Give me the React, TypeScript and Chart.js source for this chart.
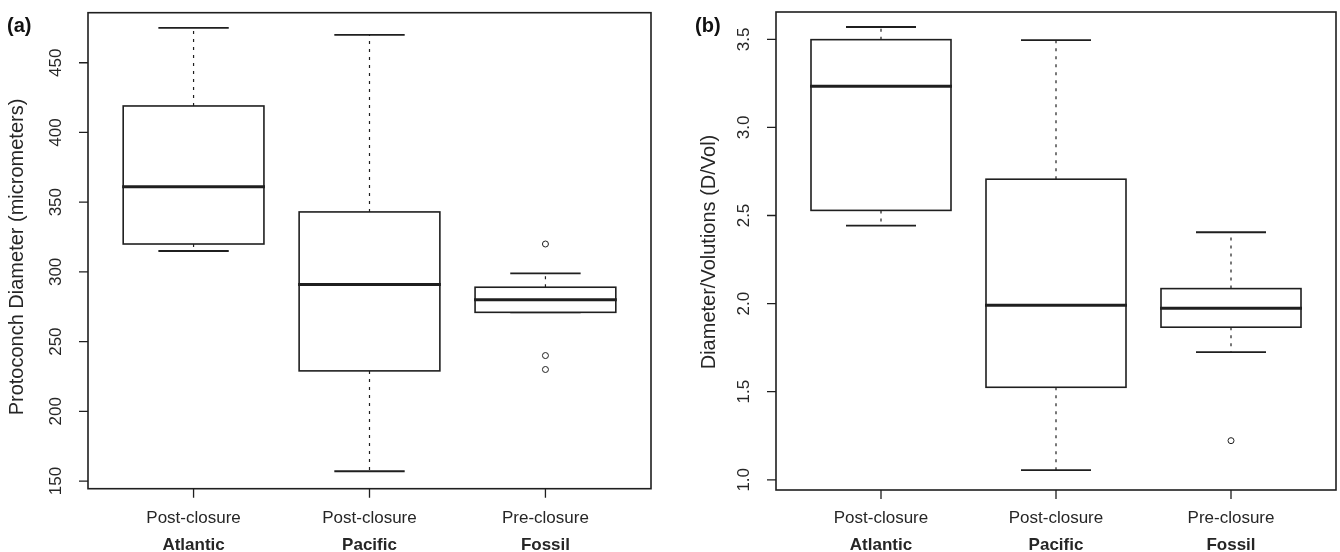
import React, { useEffect, useRef } from "react";
import { Chart, registerables } from "chart.js";

Chart.register(...registerables);

// ---------- data ----------
const groupLabels = ["Post-closure", "Post-closure", "Pre-closure"];
const regionLabels = ["Atlantic", "Pacific", "Fossil"];
const positions = [1, 2, 3];

// Panel (a): Protoconch diameter (micrometers)
const diamLow = [315, 157, 271];
const diamQ1 = [320, 229, 271];
const diamMedian = [361, 291, 280];
const diamQ3 = [419, 343, 289];
const diamHigh = [475, 470, 299];
const diamOutlierGroup = [3, 3, 3];
const diamOutliers = [320, 240, 230];
const diamTicks = [150, 200, 250, 300, 350, 400, 450];
const diamTickLabels = ["150", "200", "250", "300", "350", "400", "450"];

// Panel (b): Diameter / Volutions
const ratioLow = [2.443, 1.055, 1.725];
const ratioQ1 = [2.529, 1.525, 1.866];
const ratioMedian = [3.233, 1.99, 1.973];
const ratioQ3 = [3.498, 2.706, 2.085];
const ratioHigh = [3.57, 3.495, 2.405];
const ratioOutlierGroup = [3];
const ratioOutliers = [1.222];
const ratioTicks = [1.0, 1.5, 2.0, 2.5, 3.0, 3.5];
const ratioTickLabels = ["1.0", "1.5", "2.0", "2.5", "3.0", "3.5"];

const INK = "#1f1f1f";
const TEXT = "#262626";
const FONT = '"Liberation Sans", Arial, Helvetica, sans-serif';

type PanelCfg = {
  id: string;
  tag: string;
  tagX: number;
  title: string;
  titleX: number;
  titleY: number;
  low: number[];
  q1: number[];
  med: number[];
  q3: number[];
  high: number[];
  outX: number[];
  outY: number[];
  ticks: number[];
  tickLabels: string[];
  yMin: number;
  yMax: number;
  padding: { left: number; right: number; top: number; bottom: number };
};

function makePlugin(p: PanelCfg) {
  return {
    id: "box_" + p.id,
    beforeDatasetsDraw(chart: any) {
      const { ctx } = chart;
      const xs = chart.scales.x;
      const ys = chart.scales.y;
      const half = xs.getPixelForValue(1.4) - xs.getPixelForValue(1);
      const capHalf = half / 2;
      ctx.save();
      ctx.strokeStyle = INK;
      for (let i = 0; i < positions.length; i++) {
        const cx = xs.getPixelForValue(positions[i]);
        const yLow = ys.getPixelForValue(p.low[i]);
        const yQ1 = ys.getPixelForValue(p.q1[i]);
        const yMed = ys.getPixelForValue(p.med[i]);
        const yQ3 = ys.getPixelForValue(p.q3[i]);
        const yHigh = ys.getPixelForValue(p.high[i]);
        // whiskers (dashed)
        ctx.setLineDash([3, 5]);
        ctx.lineWidth = 1.2;
        ctx.beginPath();
        ctx.moveTo(cx, yQ3);
        ctx.lineTo(cx, yHigh);
        ctx.moveTo(cx, yQ1);
        ctx.lineTo(cx, yLow);
        ctx.stroke();
        ctx.setLineDash([]);
        // caps
        ctx.lineWidth = 1.8;
        ctx.beginPath();
        ctx.moveTo(cx - capHalf, yHigh);
        ctx.lineTo(cx + capHalf, yHigh);
        ctx.moveTo(cx - capHalf, yLow);
        ctx.lineTo(cx + capHalf, yLow);
        ctx.stroke();
        // box
        ctx.fillStyle = "#ffffff";
        ctx.fillRect(cx - half, yQ3, 2 * half, yQ1 - yQ3);
        ctx.lineWidth = 1.6;
        ctx.strokeRect(cx - half, yQ3, 2 * half, yQ1 - yQ3);
        // median
        ctx.lineWidth = 3;
        ctx.beginPath();
        ctx.moveTo(cx - half - 1, yMed);
        ctx.lineTo(cx + half + 1, yMed);
        ctx.stroke();
      }
      ctx.restore();
    },
    afterDraw(chart: any) {
      const { ctx, chartArea: a } = chart;
      const xs = chart.scales.x;
      const ys = chart.scales.y;
      ctx.save();
      // frame
      ctx.strokeStyle = INK;
      ctx.lineWidth = 1.6;
      ctx.strokeRect(a.left, a.top, a.right - a.left, a.bottom - a.top);
      // tick marks
      ctx.lineWidth = 1.3;
      ctx.beginPath();
      p.ticks.forEach((v) => {
        const y = ys.getPixelForValue(v);
        ctx.moveTo(a.left - 9, y);
        ctx.lineTo(a.left, y);
      });
      positions.forEach((v) => {
        const x = xs.getPixelForValue(v);
        ctx.moveTo(x, a.bottom);
        ctx.lineTo(x, a.bottom + 9);
      });
      ctx.stroke();
      // y tick labels (rotated)
      ctx.fillStyle = TEXT;
      ctx.font = `17px ${FONT}`;
      ctx.textAlign = "center";
      ctx.textBaseline = "middle";
      p.ticks.forEach((v, i) => {
        const y = ys.getPixelForValue(v);
        ctx.save();
        ctx.translate(a.left - 32, y);
        ctx.rotate(-Math.PI / 2);
        ctx.fillText(p.tickLabels[i], 0, 0);
        ctx.restore();
      });
      // x labels
      ctx.textBaseline = "alphabetic";
      positions.forEach((v, i) => {
        const x = xs.getPixelForValue(v);
        ctx.font = `17px ${FONT}`;
        ctx.fillText(groupLabels[i], x, 522.5);
        ctx.font = `bold 17px ${FONT}`;
        ctx.fillText(regionLabels[i], x, 550);
      });
      // y title
      ctx.font = `20px ${FONT}`;
      ctx.textBaseline = "middle";
      ctx.save();
      ctx.translate(p.titleX, p.titleY);
      ctx.rotate(-Math.PI / 2);
      ctx.fillText(p.title, 0, 0);
      ctx.restore();
      // panel tag
      ctx.font = `bold 20px ${FONT}`;
      ctx.textAlign = "left";
      ctx.fillStyle = "#111";
      ctx.fillText(p.tag, p.tagX, 26.5);
      ctx.restore();
    },
  };
}

const panels: PanelCfg[] = [
  {
    id: "a",
    tag: "(a)",
    tagX: 7,
    title: "Protoconch Diameter (micrometers)",
    titleX: 17,
    titleY: 257,
    low: diamLow,
    q1: diamQ1,
    med: diamMedian,
    q3: diamQ3,
    high: diamHigh,
    outX: diamOutlierGroup,
    outY: diamOutliers,
    ticks: diamTicks,
    tickLabels: diamTickLabels,
    yMin: 144.5,
    yMax: 485.9,
    padding: { left: 88, right: 19, top: 12.7, bottom: 63.3 },
  },
  {
    id: "b",
    tag: "(b)",
    tagX: 25,
    title: "Diameter/Volutions (D/Vol)",
    titleX: 39,
    titleY: 252,
    low: ratioLow,
    q1: ratioQ1,
    med: ratioMedian,
    q3: ratioQ3,
    high: ratioHigh,
    outX: ratioOutlierGroup,
    outY: ratioOutliers,
    ticks: ratioTicks,
    tickLabels: ratioTickLabels,
    yMin: 0.942,
    yMax: 3.655,
    padding: { left: 106, right: 1, top: 12, bottom: 62 },
  },
];

function Panel({ cfg }: { cfg: PanelCfg }) {
  const ref = useRef<HTMLCanvasElement | null>(null);
  useEffect(() => {
    if (!ref.current) return;
    const chart = new Chart(ref.current, {
      type: "scatter",
      data: {
        datasets: [
          {
            data: cfg.outX.map((x, i) => ({ x, y: cfg.outY[i] })),
            pointRadius: 3,
            pointHoverRadius: 3,
            pointBackgroundColor: "#ffffff",
            pointBorderColor: INK,
            pointBorderWidth: 1,
          },
        ],
      },
      options: {
        responsive: false,
        animation: false,
        devicePixelRatio: 1,
        layout: { padding: cfg.padding },
        plugins: {
          legend: { display: false },
          tooltip: { enabled: false },
          title: { display: false },
        },
        events: [],
        scales: {
          x: { type: "linear", min: 0.4, max: 3.6, display: false },
          y: { type: "linear", min: cfg.yMin, max: cfg.yMax, display: false },
        },
      },
      plugins: [makePlugin(cfg)],
    } as any);
    return () => chart.destroy();
  }, [cfg]);
  return <canvas ref={ref} width={670} height={552} style={{ display: "block" }} />;
}

export default function App() {
  return (
    <div
      style={{
        position: "absolute",
        left: 0,
        top: 0,
        width: 1340,
        height: 552,
        display: "flex",
        background: "#ffffff",
      }}
    >
      {panels.map((p) => (
        <Panel key={p.id} cfg={p} />
      ))}
    </div>
  );
}
